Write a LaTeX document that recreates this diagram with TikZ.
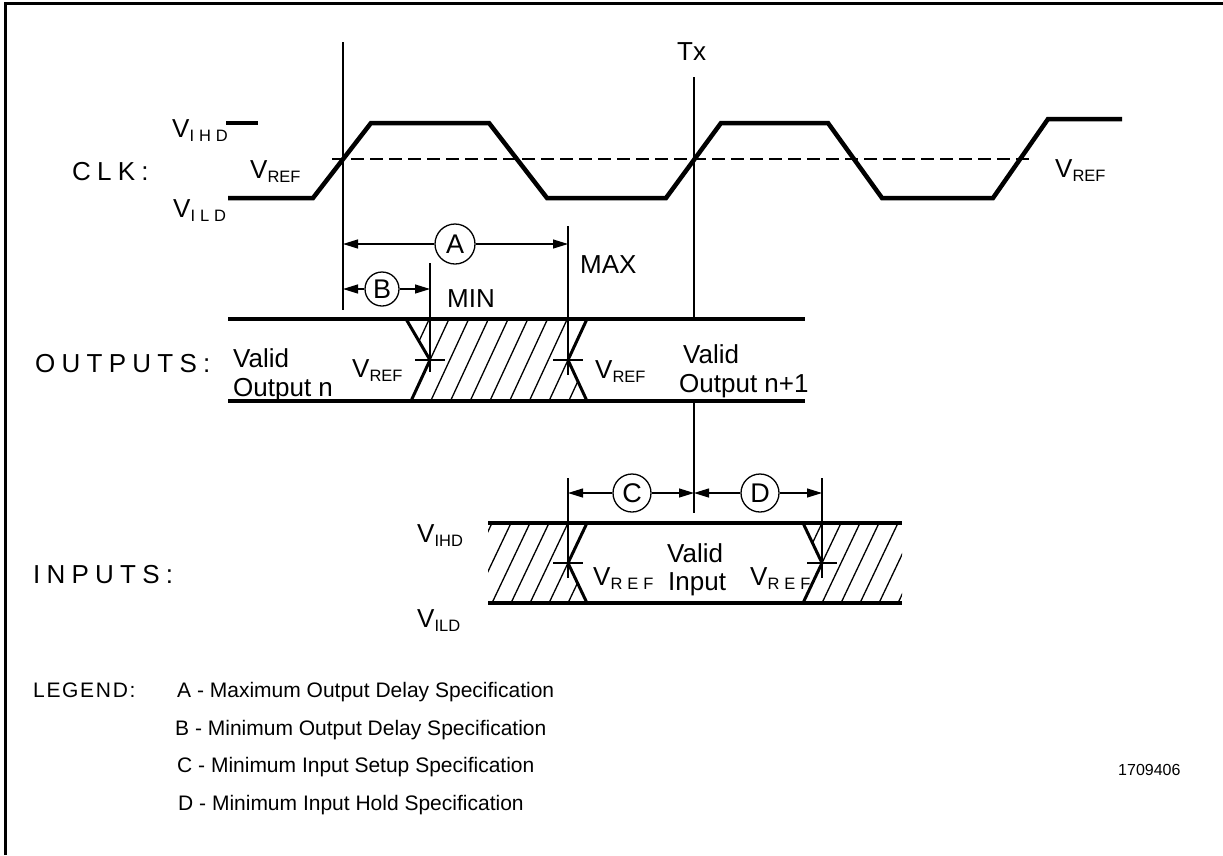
\documentclass[tikz,border=0pt]{standalone}
\usepackage{fontspec}
\setmainfont{Liberation Sans}
\usetikzlibrary{arrows.meta}
\newcommand{\Vsub}[1]{V\raisebox{-4pt}{\fontsize{16.5}{18}\selectfont #1}}
\newcommand{\Vsubsp}[1]{V\raisebox{-4pt}{\fontsize{16.5}{18}\selectfont\addfontfeature{LetterSpace=30}#1}}
\begin{document}
\begin{tikzpicture}[x=1pt,y=-1pt,
  txt/.style={inner sep=0pt, anchor=base west, font=\fontsize{26}{30}\selectfont},
  lbl/.style={inner sep=0pt, anchor=base west, font=\fontsize{26}{30}\selectfont\addfontfeature{LetterSpace=24}},
  leg/.style={inner sep=0pt, anchor=base west, font=\fontsize{21}{25}\selectfont},
  wave/.style={line width=4.5pt, line join=miter},
  band/.style={line width=3.5pt},
  edgeln/.style={line width=3pt},
  thinln/.style={line width=1.5pt},
  hatchln/.style={line width=1.3pt},
  dimln/.style={line width=1.2pt, -{Triangle[length=15pt,width=9pt]}},
  circ/.style={circle, draw, line width=1.3pt, inner sep=0pt, minimum size=#1, font=\fontsize{27}{30}\selectfont},
  circ/.default=38pt]
\useasboundingbox (0,0) rectangle (1223,855);
% frame
\draw[line width=3pt] (5,855) -- (5,3) -- (1223,3);

% clock
\draw[wave] (228,198) -- (313,198) -- (371,123) -- (489,123) -- (547,198) -- (666,198)
  -- (721,123) -- (828,123) -- (882,198) -- (993,198) -- (1048,119) -- (1122,119);
\draw[wave] (226,123) -- (258,123);
\draw[thinln, dash pattern=on 13pt off 6pt] (332,159) -- (1030,159);

% vertical reference lines
\coordinate (L1t) at (343,42);  \coordinate (L1b) at (343,310);
\draw[thinln] (L1t) -- (L1b);
\coordinate (TXt) at (694,77); \coordinate (TXm) at (694,319);
\coordinate (TXn) at (694,401); \coordinate (TXb) at (694,513);
\draw[thinln] (TXt) -- (TXm);
\draw[thinln] (TXn) -- (TXb);
\coordinate (MAXt) at (568,226); \coordinate (MAXb) at (568,375);
\draw[thinln] (MAXt) -- (MAXb);
\coordinate (MINt) at (430,263); \coordinate (MINb) at (430,372);
\draw[thinln] (MINt) -- (MINb);
\coordinate (Ct) at (568,478); \coordinate (Cb) at (568,578);
\draw[thinln] (Ct) -- (Cb);
\coordinate (Dt) at (822,478); \coordinate (Db) at (822,578);
\draw[thinln] (Dt) -- (Db);

% dimension A and B
\node[circ=40pt] (cA) at (455,244) {A};
\draw[dimln] (cA.west) -- (343,244);
\draw[dimln] (cA.east) -- (568,244);
\node[circ=34pt] (cB) at (382,289) {B};
\draw[dimln] (cB.west) -- (343,289);
\draw[dimln] (cB.east) -- (430,289);
% dimension C and D
\node[circ=38pt] (cC) at (632,493) {C};
\draw[dimln] (cC.west) -- (568,493);
\draw[dimln] (cC.east) -- (694,493);
\node[circ=38pt] (cD) at (760,493) {D};
\draw[dimln] (cD.west) -- (694,493);
\draw[dimln] (cD.east) -- (822,493);

% outputs band
\draw[band] (228,319) -- (805,319);
\draw[band] (228,401) -- (805,401);
\begin{scope}
\clip (406,319) -- (587,319) -- (568,360) -- (587,401) -- (411,401) -- (430,360) -- cycle;
\foreach \k in {-2,...,9} \draw[hatchln] ({411+19.714*\k},401) -- ({449+19.714*\k},319);
\end{scope}
\draw[edgeln] (406,319) -- (430,360) -- (411,401);
\draw[edgeln] (587,319) -- (568,360) -- (587,401);
\draw[thinln] (415,360) -- (445,360);
\draw[thinln] (553,360) -- (583,360);

% inputs band
\draw[band] (488,523) -- (902,523);
\draw[band] (488,603) -- (902,603);
\begin{scope}
\clip (488,523) -- (587,523) -- (568,563) -- (587,603) -- (488,603) -- cycle;
\foreach \k in {-1,...,5} \draw[hatchln] ({549-19*\k},603) -- ({587-19*\k},523);
\end{scope}
\begin{scope}
\clip (803,523) -- (902,523) -- (902,603) -- (803,603) -- (822,563) -- cycle;
\foreach \k in {-1,...,5} \draw[hatchln] ({803+19*\k},603) -- ({841+19*\k},523);
\end{scope}
\draw[edgeln] (587,523) -- (568,563) -- (587,603);
\draw[edgeln] (803,523) -- (822,563) -- (803,603);
\draw[thinln] (553,563) -- (583,563);
\draw[thinln] (807,563) -- (837,563);

% texts
\node[txt] (tx) at (677,60) {Tx};
\node[txt] (vihd1) at (172,137) {\Vsubsp{IHD}};
\node[lbl] (clk) at (72,180) {CLK:};
\node[txt] (vref1) at (250,178) {\Vsub{REF}};
\node[txt] (vild1) at (173,217) {\Vsubsp{ILD}};
\node[txt] (vref2) at (1055,177) {\Vsub{REF}};
\node[txt] (max) at (580,273) {MAX};
\node[txt] (min) at (447,307) {MIN};
\node[lbl] (outs) at (35,372) {OUTPUTS:};
\node[txt] (val1) at (233,367) {Valid};
\node[txt] (out1) at (233,396) {Output n};
\node[txt] (vref3) at (352,377) {\Vsub{REF}};
\node[txt] (vref4) at (595,378) {\Vsub{REF}};
\node[txt] (val2) at (683,363) {Valid};
\node[txt] (out2) at (679,392) {Output n+1};
\node[txt] (vihd2) at (417,542) {\Vsub{IHD}};
\node[txt] (vild2) at (417,627) {\Vsub{ILD}};
\node[lbl] (ins) at (33,583) {INPUTS:};
\node[txt] (vref5) at (593,585) {\Vsubsp{REF}};
\node[txt] (val3) at (667,562) {Valid};
\node[txt] (inp) at (668,590) {Input};
\node[txt] (vref6) at (750,585) {\Vsubsp{REF}};

% legend
\node[leg, font=\fontsize{21}{25}\selectfont\addfontfeature{LetterSpace=8}] (legend) at (33,697) {LEGEND:};
\node[leg] (legA) at (177,697) {A - Maximum Output Delay Specification};
\node[leg] (legB) at (175,735) {B - Minimum Output Delay Specification};
\node[leg] (legC) at (177,772) {C - Minimum Input Setup Specification};
\node[leg] (legD) at (178,810) {D - Minimum Input Hold Specification};
\node[inner sep=0pt, anchor=base west, font=\fontsize{16}{18}\selectfont] (num) at (1118,775) {1709406};
\end{tikzpicture}
\end{document}
